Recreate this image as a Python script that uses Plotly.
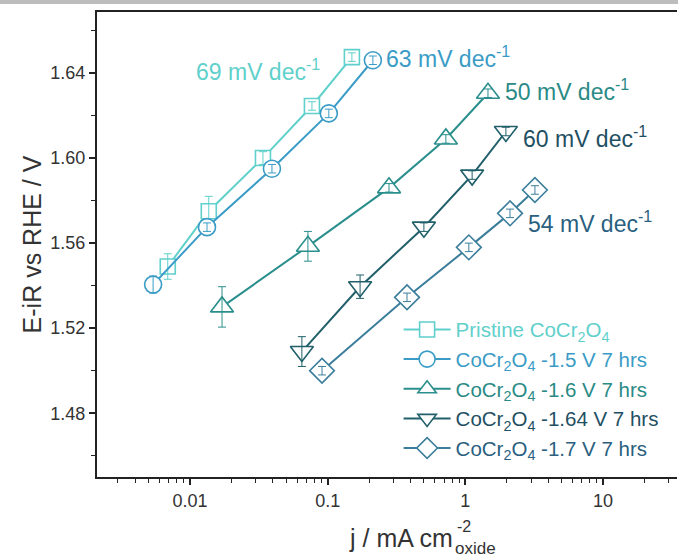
import plotly.graph_objects as go

# Tafel data: current density (mA cm^-2 oxide) vs iR-corrected potential (V vs RHE)
series_names = [
    "Pristine CoCr<sub>2</sub>O<sub>4</sub>",
    "CoCr<sub>2</sub>O<sub>4</sub> -1.5 V 7 hrs",
    "CoCr<sub>2</sub>O<sub>4</sub> -1.6 V 7 hrs",
    "CoCr<sub>2</sub>O<sub>4</sub> -1.64 V 7 hrs",
    "CoCr<sub>2</sub>O<sub>4</sub> -1.7 V 7 hrs",
]
j_pristine = [0.0069, 0.0137, 0.0339, 0.0769, 0.150]
e_pristine = [1.549, 1.575, 1.600, 1.6245, 1.6475]
err_pristine = [0.006, 0.007, 0.003, 0.002, 0.002]

j_15 = [0.0054, 0.0133, 0.0394, 0.102, 0.213]
e_15 = [1.5405, 1.5675, 1.595, 1.621, 1.646]
err_15 = [0.004, 0.002, 0.002, 0.002, 0.002]

j_16 = [0.0171, 0.0719, 0.279, 0.722, 1.46]
e_16 = [1.530, 1.5585, 1.586, 1.609, 1.6305]
err_16 = [0.0095, 0.007, 0.002, 0.002, 0.002]

j_164 = [0.065, 0.172, 0.500, 1.12, 1.97]
e_164 = [1.509, 1.5395, 1.5675, 1.592, 1.6125]
err_164 = [0.007, 0.0055, 0.002, 0.002, 0.002]

j_17 = [0.091, 0.377, 1.06, 2.11, 3.20]
e_17 = [1.500, 1.5345, 1.558, 1.574, 1.585]
err_17 = [0.002, 0.002, 0.002, 0.002, 0.002]

tafel_labels = ["69", "63", "50", "60", "54"]

line_colors = ["#5fd0cb", "#3a9cc6", "#2a8f8c", "#21606a", "#3b7e9b"]
text_colors = ["#5fd0cb", "#3a9cc6", "#2a8a86", "#1f4f62", "#2a5f80"]
symbols = ["square", "circle", "triangle-up", "triangle-down", "diamond"]
sizes = [15, 17, 20, 20, 19]

xs = [j_pristine, j_15, j_16, j_164, j_17]
ys = [e_pristine, e_15, e_16, e_164, e_17]
errs = [err_pristine, err_15, err_16, err_164, err_17]

FONT = "Liberation Sans, Arial, sans-serif"
AXIS_TXT = "#333333"

fig = go.Figure()
for name, x, y, err, col, tcol, sym, sz in zip(series_names, xs, ys, errs, line_colors,
                                               text_colors, symbols, sizes):
    fig.add_trace(go.Scatter(
        x=x, y=y, mode="lines+markers",
        name=f'<span style="color:{tcol}">{name}</span>',
        line=dict(color=col, width=2),
        marker=dict(symbol=sym, size=sz, color="white", line=dict(color=col, width=1.6)),
    ))
    # error bars drawn above the white-filled markers
    fig.add_trace(go.Scatter(
        x=x, y=y, mode="markers", showlegend=False, hoverinfo="skip",
        marker=dict(size=1, color="rgba(0,0,0,0)"),
        error_y=dict(type="data", array=err, visible=True, color=col, thickness=1, width=4),
    ))

# Tafel slope labels (paper coordinates)
label_pos = [(0.168, 0.875), (0.495, 0.903), (0.700, 0.832), (0.731, 0.731), (0.739, 0.548)]
for lab, (px, py), tcol in zip(tafel_labels, label_pos, text_colors):
    fig.add_annotation(
        x=px, y=py, xref="paper", yref="paper", xanchor="left", yanchor="middle",
        text=f"{lab} mV dec<sup>-1</sup>", showarrow=False,
        font=dict(family=FONT, size=23, color=tcol),
    )

# x-axis title with the stacked -2 / oxide unit scripts
XT = 0.617
fig.add_annotation(x=XT, y=-0.131, xref="paper", yref="paper", xanchor="right", yanchor="middle",
                   text="j / mA cm", showarrow=False, font=dict(family=FONT, size=25, color=AXIS_TXT))
fig.add_annotation(x=XT, y=-0.106, xref="paper", yref="paper", xanchor="left", yanchor="middle",
                   text="-2", showarrow=False, font=dict(family=FONT, size=16, color=AXIS_TXT))
fig.add_annotation(x=XT - 0.003, y=-0.154, xref="paper", yref="paper", xanchor="left", yanchor="middle",
                   text="oxide", showarrow=False, font=dict(family=FONT, size=17, color=AXIS_TXT))

# grey strip along the top edge
fig.add_shape(type="rect", xref="paper", yref="paper", x0=-0.2, x1=1.1,
              y0=1 + 8 / 465, y1=1 + 13 / 465, fillcolor="#bdbdbd", line_width=0, layer="below")

fig.update_layout(
    width=678, height=559,
    margin=dict(l=97, r=1, t=12, b=82),
    paper_bgcolor="white", plot_bgcolor="white",
    font=dict(family=FONT, size=18, color=AXIS_TXT),
    showlegend=True,
    legend=dict(
        x=0.52, y=0.36, xanchor="left", yanchor="top",
        bgcolor="rgba(0,0,0,0)", font=dict(family=FONT, size=20.5),
        tracegroupgap=0, itemwidth=47,
    ),
    xaxis=dict(
        type="log", range=[-2.675, 1.537],
        showline=True, linecolor="#222222", linewidth=2, mirror=True,
        showgrid=False, zeroline=False,
        ticks="outside", ticklen=6, tickwidth=1.5, tickcolor="#222222",
        tickvals=[0.01, 0.1, 1, 10], ticktext=["0.01", "0.1", "1", "10"],
        minor=dict(ticks="outside", ticklen=4, tickwidth=1, tickcolor="#222222",
                   tickvals=[m * 10 ** e for e in range(-3, 2) for m in range(2, 10)]),
        tickfont=dict(size=18, color=AXIS_TXT),
    ),
    yaxis=dict(
        range=[1.45, 1.6687],
        showline=True, linecolor="#222222", linewidth=2, mirror=False,
        showgrid=False, zeroline=False,
        ticks="outside", ticklen=6, tickwidth=1.5, tickcolor="#222222",
        tickvals=[1.48, 1.52, 1.56, 1.60, 1.64], ticktext=["1.48", "1.52", "1.56", "1.60", "1.64"],
        minor=dict(ticks="outside", ticklen=4, tickwidth=1, tickcolor="#222222",
                   tickvals=[1.46, 1.50, 1.54, 1.58, 1.62, 1.66]),
        tickfont=dict(size=18, color=AXIS_TXT),
        title=dict(text="E-iR vs RHE / V", font=dict(size=25, color=AXIS_TXT), standoff=2),
    ),
)

fig.write_html("out.html")
